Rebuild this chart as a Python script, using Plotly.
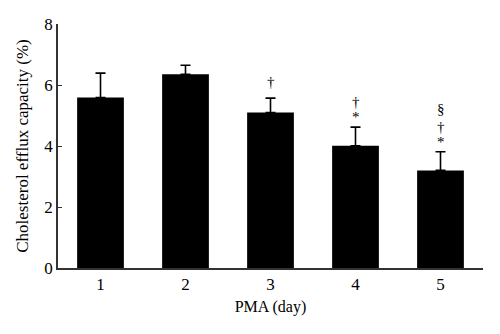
import plotly.graph_objects as go

days = [1, 2, 3, 4, 5]
tick_labels = ["1", "2", "3", "4", "5"]
capacity = [5.59, 6.35, 5.10, 4.01, 3.20]
sd = [0.80, 0.30, 0.47, 0.61, 0.61]
marks = [[], [], ["†"], ["*", "†"], ["*", "†", "§"]]

font = "Liberation Serif, Times New Roman, serif"

fig = go.Figure()
fig.add_trace(go.Bar(
    x=days, y=capacity, width=0.55,
    marker=dict(color="black", line=dict(color="black", width=0)),
    error_y=dict(type="data", array=sd, symmetric=False, arrayminus=[0]*5,
                 color="black", thickness=1.6, width=5),
))

shifts = [10, 25, 43]
for d, v, e, ms in zip(days, capacity, sd, marks):
    for i, m in enumerate(ms):
        ys = 16 if (m == "†" and i == 0) else shifts[i]
        fig.add_annotation(x=d, y=v + e, text=m, showarrow=False,
                           yanchor="middle", yshift=ys,
                           font=dict(family=font, size=15, color="black"))

fig.update_layout(
    width=500, height=334,
    margin=dict(l=58, r=17, t=24, b=66),
    paper_bgcolor="white", plot_bgcolor="white",
    showlegend=False,
    font=dict(family=font, size=17, color="black"),
    xaxis=dict(range=[0.5, 5.5], tickvals=days, ticktext=tick_labels,
               showline=True, linecolor="#333", linewidth=1.5, ticks="",
               showgrid=False, zeroline=False,
               title=dict(text="PMA (day)", font=dict(size=16), standoff=8)),
    yaxis=dict(range=[0, 8], tickvals=[0, 2, 4, 6, 8],
               showline=True, linecolor="#333", linewidth=1.5,
               ticks="inside", ticklen=4, tickcolor="#333",
               showgrid=False, zeroline=False,
               title=dict(text="Cholesterol efflux capacity (%)", font=dict(size=17), standoff=11)),
)

fig.write_html("out.html")
